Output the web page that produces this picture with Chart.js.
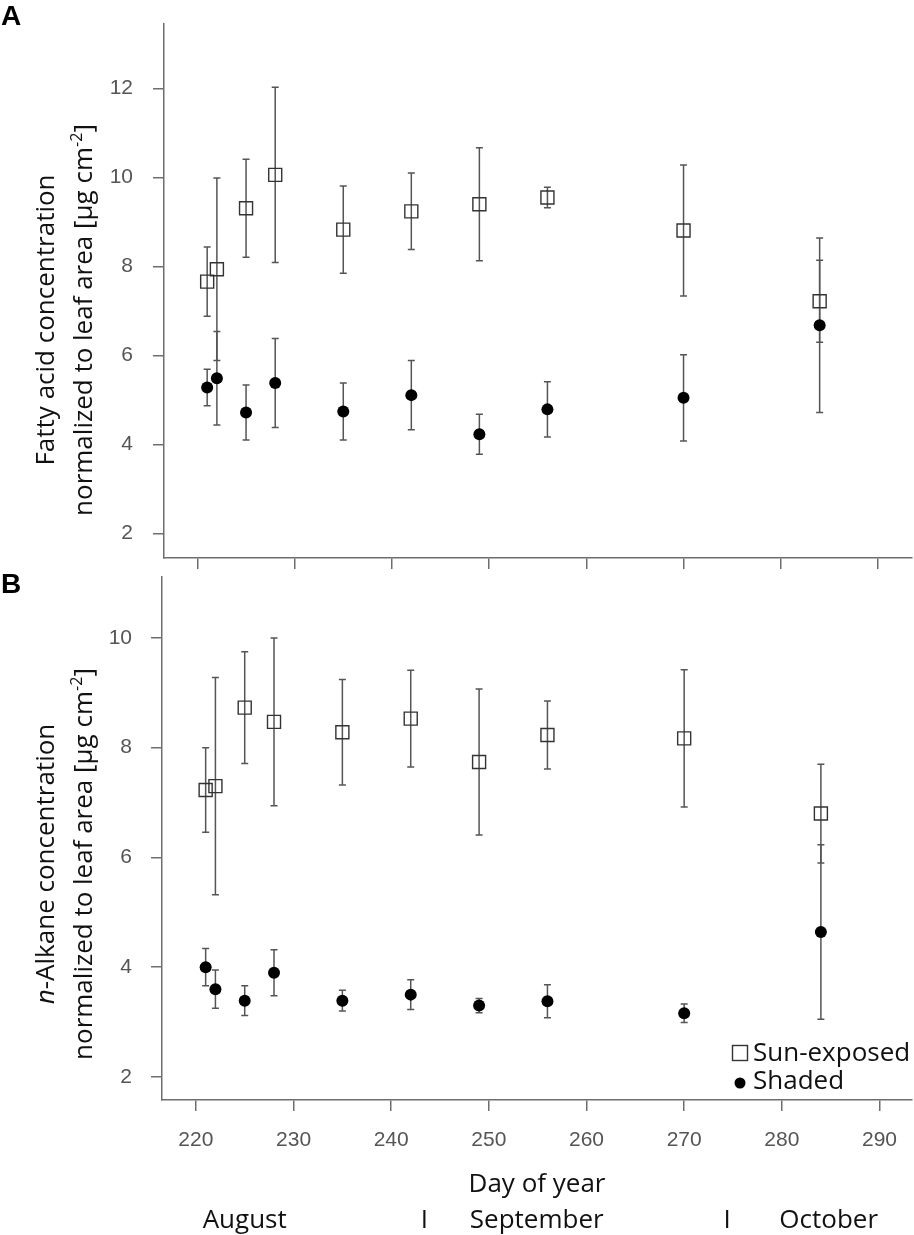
<!DOCTYPE html>
<html>
<head>
<meta charset="utf-8">
<script src="https://cdn.jsdelivr.net/npm/chart.js@4.4.1/dist/chart.umd.min.js"></script>
<style>
  html, body { margin: 0; padding: 0; background: #fff; overflow: hidden; }
  #wrap { position: relative; width: 914px; height: 1235px; }
  #boxA { position: absolute; left: 0; top: 0; width: 914px; height: 570px; }
  #boxB { position: absolute; left: 0; top: 570px; width: 914px; height: 665px; }
</style>
</head>
<body>
<div id="wrap">
  <div id="boxA"><canvas id="chartA"></canvas></div>
  <div id="boxB"><canvas id="chartB"></canvas></div>
</div>
<script>
// sampling days (day of year)
const days = [221, 222, 225, 228, 235, 242, 249, 256, 270, 284]

// panel A: fatty acids, mean and +/- error
const sunFA = [7.66, 7.94, 9.31, 10.06, 8.83, 9.24, 9.40, 9.55, 8.81, 7.22]
const sunFAErr = [0.78, 2.05, 1.10, 1.97, 0.98, 0.86, 1.27, 0.23, 1.47, 0.92]
const shadeFA = [5.28, 5.49, 4.72, 5.38, 4.74, 5.11, 4.23, 4.79, 5.05, 6.68]
const shadeFAErr = [0.41, 1.05, 0.62, 1.00, 0.64, 0.78, 0.45, 0.62, 0.97, 1.96]

// panel B: n-alkanes
const sunAlk = [7.23, 7.30, 8.73, 8.47, 8.28, 8.53, 7.74, 8.23, 8.17, 6.80]
const sunAlkErr = [0.77, 1.98, 1.02, 1.53, 0.96, 0.88, 1.33, 0.62, 1.25, 0.90]
const shadeAlk = [4.00, 3.60, 3.39, 3.90, 3.39, 3.50, 3.30, 3.38, 3.16, 4.64]
const shadeAlkErr = [0.34, 0.35, 0.27, 0.42, 0.19, 0.27, 0.13, 0.30, 0.17, 1.59]

// ticks
const xTicks = [220, 230, 240, 250, 260, 270, 280, 290]
const yTicksA = [2, 4, 6, 8, 10, 12]
const yTicksB = [2, 4, 6, 8, 10]

// month row under the x axis (positions in day of year)
const monthNames = ['August', 'September', 'October']
const monthCenters = [225, 254.9, 284.8]
const monthBreaks = [243.4, 274.4]

const seriesNames = ['Sun-exposed', 'Shaded']

const TEXT_FONT = '"Open Sans", "Noto Sans", sans-serif'
const TICK_FONT = '"Liberation Sans", Arial, sans-serif'
const AXIS_GRAY = '#6e6e6e'

const toPoints = (ys) => days.map((d, i) => ({x: d, y: ys[i]}))

const sunStyle = {
    pointStyle: 'rect', pointRadius: 9.2, pointHoverRadius: 9.2,
    pointBorderColor: '#333', pointBorderWidth: 1.4,
    pointBackgroundColor: 'rgba(0,0,0,0)'
}
const shadeStyle = {
    pointStyle: 'circle', pointRadius: 6, pointHoverRadius: 6,
    pointBorderColor: '#000', pointBorderWidth: 0,
    pointBackgroundColor: '#000'
}

// error bars, drawn under the markers
const errorBars = {
    id: 'errorBars',
    beforeDatasetsDraw(chart) {
        const ctx = chart.ctx
        const xs = chart.scales.x, ys = chart.scales.y
        ctx.save()
        ctx.strokeStyle = '#555'
        ctx.lineWidth = 1.5
        chart.data.datasets.forEach(ds => {
            ds.data.forEach((p, i) => {
                const e = ds.err[i]
                const px = xs.getPixelForValue(p.x)
                const top = ys.getPixelForValue(p.y + e)
                const bot = ys.getPixelForValue(p.y - e)
                ctx.beginPath()
                ctx.moveTo(px, top); ctx.lineTo(px, bot)
                ctx.moveTo(px - 3.5, top); ctx.lineTo(px + 3.5, top)
                ctx.moveTo(px - 3.5, bot); ctx.lineTo(px + 3.5, bot)
                ctx.stroke()
            })
        })
        ctx.restore()
    }
}

// text made of segments: {t, it, sup}
const segFont = (s, size) => (s.it ? 'italic ' : '') + (s.sup ? size * 0.62 : size) + 'px ' + TEXT_FONT
const drawSegs = (ctx, segs, size, x, y, align) => {
    let w = 0
    segs.forEach(s => { ctx.font = segFont(s, size); w += ctx.measureText(s.t).width })
    let cx = align === 'center' ? x - w / 2 : x
    ctx.textAlign = 'left'
    ctx.textBaseline = 'alphabetic'
    segs.forEach(s => {
        ctx.font = segFont(s, size)
        ctx.fillText(s.t, cx, s.sup ? y - size * 0.38 : y)
        cx += ctx.measureText(s.t).width
    })
}

const makeDecor = (cfg) => ({
    id: 'decor' + cfg.letter,
    afterDraw(chart) {
        const ctx = chart.ctx
        ctx.save()
        ctx.fillStyle = '#000'
        ctx.font = 'bold 28px ' + TICK_FONT
        ctx.textAlign = 'left'
        ctx.textBaseline = 'top'
        ctx.fillText(cfg.letter, 1, cfg.letterY)

        // rotated y axis title
        ctx.fillStyle = '#111'
        cfg.title.forEach((segs, i) => {
            ctx.save()
            ctx.translate(cfg.titleX[i], cfg.titleY)
            ctx.rotate(-Math.PI / 2)
            drawSegs(ctx, segs, 26, 0, 0, 'center')
            ctx.restore()
        })

        if (cfg.legend) {
            const L = cfg.legend
            ctx.strokeStyle = '#333'
            ctx.lineWidth = 1.4
            ctx.strokeRect(L.x - 7.5, L.y1 - 7.5, 15, 15)
            ctx.fillStyle = '#000'
            ctx.beginPath()
            ctx.arc(L.x, L.y2 + 2, 5.5, 0, Math.PI * 2)
            ctx.fill()
            ctx.font = '26px ' + TEXT_FONT
            ctx.textAlign = 'left'
            ctx.textBaseline = 'alphabetic'
            ctx.fillStyle = '#111'
            ctx.fillText(seriesNames[0], L.x + 13, L.y1 + 8)
            ctx.fillText(seriesNames[1], L.x + 13, L.y2 + 8)
        }

        if (cfg.months) {
            const xs = chart.scales.x
            const area = chart.chartArea
            ctx.fillStyle = '#111'
            ctx.font = '26px ' + TEXT_FONT
            ctx.textAlign = 'center'
            ctx.textBaseline = 'alphabetic'
            ctx.fillText('Day of year', (area.left + area.right) / 2, area.bottom + 92)
            monthNames.forEach((m, i) => ctx.fillText(m, xs.getPixelForValue(monthCenters[i]), area.bottom + 128))
            monthBreaks.forEach(b => ctx.fillText('I', xs.getPixelForValue(b), area.bottom + 128))
        }
        ctx.restore()
    }
})

const axisX = (min, max, showLabels, height) => ({
    type: 'linear', min, max,
    afterBuildTicks: s => { s.ticks = xTicks.map(v => ({value: v})) },
    afterFit: s => { s.height = height; s.paddingLeft = 0; s.paddingRight = 0 },
    ticks: {display: showLabels, color: '#555', font: {family: TICK_FONT, size: 21}, padding: 17, maxRotation: 0},
    grid: {drawOnChartArea: false, tickLength: 11, color: AXIS_GRAY, lineWidth: 1.5},
    border: {color: AXIS_GRAY, width: 1.5}
})
const axisY = (min, max, ticks, width, pad) => ({
    type: 'linear', min, max,
    afterBuildTicks: s => { s.ticks = ticks.map(v => ({value: v})) },
    afterFit: s => { s.width = width; s.paddingTop = 0; s.paddingBottom = 0 },
    ticks: {color: '#555', font: {family: TICK_FONT, size: 21}, padding: pad},
    grid: {drawOnChartArea: false, tickLength: 11, color: AXIS_GRAY, lineWidth: 1.5},
    border: {color: AXIS_GRAY, width: 1.5}
})

const baseOpts = {
    responsive: true,
    maintainAspectRatio: false,
    animation: false,
    plugins: {legend: {display: false}, tooltip: {enabled: false}}
}

new Chart('chartA', {
    type: 'scatter',
    data: {
        datasets: [
            {label: seriesNames[0], data: toPoints(sunFA), err: sunFAErr, ...sunStyle},
            {label: seriesNames[1], data: toPoints(shadeFA), err: shadeFAErr, ...shadeStyle}
        ]
    },
    options: {
        ...baseOpts,
        layout: {autoPadding: false, padding: {top: 24, right: 2, left: 0, bottom: 0}},
        scales: {x: axisX(216.56, 293.5, false, 12), y: axisY(1.45, 13.45, yTicksA, 164, 20)}
    },
    plugins: [errorBars, makeDecor({
        letter: 'A', letterY: 3, titleX: [54, 92], titleY: 320,
        title: [
            [{t: 'Fatty acid concentration'}],
            [{t: 'normalized to leaf area [µg cm'}, {t: '-2', sup: true}, {t: ']'}]
        ]
    })]
})

new Chart('chartB', {
    type: 'scatter',
    data: {
        datasets: [
            {label: seriesNames[0], data: toPoints(sunAlk), err: sunAlkErr, ...sunStyle},
            {label: seriesNames[1], data: toPoints(shadeAlk), err: shadeAlkErr, ...shadeStyle}
        ]
    },
    options: {
        ...baseOpts,
        layout: {autoPadding: false, padding: {top: 7, right: 2, left: 0, bottom: 0}},
        scales: {x: axisX(216.53, 293.33, true, 135), y: axisY(1.58, 11.11, yTicksB, 162, 19)}
    },
    plugins: [errorBars, makeDecor({
        letter: 'B', letterY: 1, titleX: [54, 92], titleY: 294,
        title: [
            [{t: 'n', it: true}, {t: '-Alkane concentration'}],
            [{t: 'normalized to leaf area [µg cm'}, {t: '-2', sup: true}, {t: ']'}]
        ],
        legend: {x: 740, y1: 483, y2: 511},
        months: true
    })]
})
</script>
</body>
</html>
